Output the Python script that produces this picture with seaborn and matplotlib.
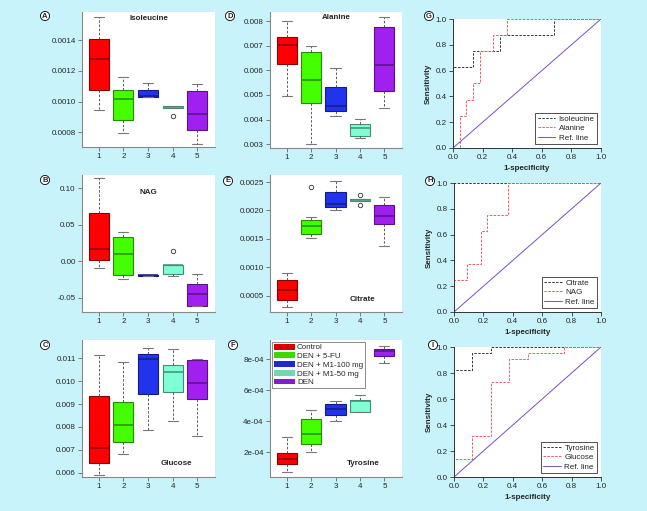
import numpy as np
import pandas as pd
import seaborn as sns
import matplotlib.pyplot as plt
from matplotlib.patches import Patch
from matplotlib.colors import to_rgb

groups = ["1", "2", "3", "4", "5"]
fills = ["#ff0000", "#44ff00", "#2233ee", "#7fffd4", "#a020f0"]
legend_labels = ["Control", "DEN + 5-FU", "DEN + M1-100 mg", "DEN + M1-50 mg", "DEN"]

# box summaries per group: (low whisker, q1, median, q3, high whisker)
isoleucine = [(0.000943, 0.001076, 0.001274, 0.001405, 0.00155),
              (0.000798, 0.000878, 0.001017, 0.001076, 0.001163),
              (0.00103, 0.00103, 0.001033, 0.001078, 0.001122),
              (0.000957, 0.000957, 0.000965, 0.000968, 0.000968),
              (0.000722, 0.000817, 0.000922, 0.001067, 0.001111)]
isoleucine_out = [[], [], [], [0.000905], []]

alanine = [(0.00496, 0.00628, 0.00704, 0.00735, 0.0080),
           (0.0030, 0.00467, 0.0056, 0.00677, 0.00699),
           (0.00414, 0.00436, 0.00457, 0.00532, 0.0061),
           (0.00324, 0.00332, 0.00364, 0.00383, 0.00404),
           (0.00447, 0.00518, 0.00621, 0.00776, 0.00816)]
alanine_out = [[], [], [], [], []]

nag = [(-0.0096, 0.0014, 0.0171, 0.0665, 0.1137),
       (-0.0243, -0.0183, 0.0102, 0.0333, 0.0403),
       (-0.0195, -0.0195, -0.0185, -0.018, -0.018),
       (-0.0197, -0.017, -0.0055, -0.0055, -0.0055),
       (-0.061, -0.061, -0.044, -0.0307, -0.017)]
nag_out = [[], [], [], [0.0148], []]

citrate = [(0.000306, 0.000435, 0.0006, 0.000777, 0.000906),
           (0.001523, 0.001595, 0.001724, 0.001835, 0.001894),
           (0.002006, 0.002065, 0.002117, 0.00233, 0.002523),
           (0.00217, 0.00217, 0.00218, 0.002194, 0.002194),
           (0.001383, 0.001771, 0.001912, 0.0021, 0.002235)]
citrate_out = [[], [0.002406], [], [0.0021, 0.002276], []]

glucose = [(0.0059, 0.00644, 0.00706, 0.00935, 0.01113),
           (0.0068, 0.00732, 0.0081, 0.0091, 0.01082),
           (0.00787, 0.00942, 0.01096, 0.01119, 0.01144),
           (0.00826, 0.00952, 0.01041, 0.0107, 0.0114),
           (0.0076, 0.00924, 0.00991, 0.01093, 0.01099)]
glucose_out = [[], [], [], [], []]

tyrosine = [(0.71e-4, 1.27e-4, 1.59e-4, 1.98e-4, 2.99e-4),
            (2.04e-4, 2.54e-4, 3.21e-4, 4.17e-4, 4.76e-4),
            (4.04e-4, 4.43e-4, 4.79e-4, 5.11e-4, 5.31e-4),
            (4.6e-4, 4.6e-4, 5.33e-4, 5.35e-4, 5.68e-4),
            (7.74e-4, 8.24e-4, 8.54e-4, 8.69e-4, 8.88e-4)]
tyrosine_out = [[], [], [], [], []]

# ROC curve vertices
iso_fpr = [0, 0, 0.136, 0.136, 0.318, 0.318, 0.682, 0.682, 1]
iso_tpr = [0, 0.625, 0.625, 0.75, 0.75, 0.875, 0.875, 1, 1]
ala_fpr = [0, 0.045, 0.045, 0.091, 0.091, 0.136, 0.136, 0.182, 0.182, 0.273, 0.273, 0.364, 0.364, 1]
ala_tpr = [0, 0, 0.25, 0.25, 0.375, 0.375, 0.5, 0.5, 0.75, 0.75, 0.875, 0.875, 1, 1]
cit_fpr = [0, 0, 1]
cit_tpr = [0, 1, 1]
nag_fpr = [0, 0, 0.091, 0.091, 0.182, 0.182, 0.227, 0.227, 0.364, 0.364, 1]
nag_tpr = [0, 0.25, 0.25, 0.375, 0.375, 0.625, 0.625, 0.75, 0.75, 1, 1]
tyr_fpr = [0, 0, 0.125, 0.125, 0.25, 0.25, 1]
tyr_tpr = [0, 0.82, 0.82, 0.955, 0.955, 1, 1]
glu_fpr = [0, 0, 0.125, 0.125, 0.25, 0.25, 0.375, 0.375, 0.5, 0.5, 0.75, 0.75, 1]
glu_tpr = [0, 0.136, 0.136, 0.318, 0.318, 0.727, 0.727, 0.909, 0.909, 0.955, 0.955, 1, 1]
ref_x = [0, 1]
ref_y = [0, 1]

roc_ticks = [0, 0.2, 0.4, 0.6, 0.8, 1.0]

sns.set_style("ticks")
plt.rcParams['font.family'] = ['Liberation Sans', 'DejaVu Sans']
FS = 5.8
W, H = 647, 511
BG = "#c8f3fb"

fig = plt.figure(figsize=(W / 100, H / 100), dpi=100, facecolor=BG)


def rect(l, t, r, b):
    return [l / W, 1 - b / H, (r - l) / W, (b - t) / H]


def dark(c, f=0.55):
    return tuple(v * f for v in to_rgb(c))


def box_sample(stats, outliers):
    # 9 points so the quartiles land exactly on q1/median/q3
    lo, q1, med, q3, hi = stats
    pts = [lo, lo, q1, q1, med, q3, q3, hi, hi]
    below = [o for o in outliers if o < lo]
    above = [o for o in outliers if o > hi]
    if below:
        pts[0] = below[0]
    if above:
        pts[-1] = above[0]
    return pts


def draw_box(pos, stats, outs, ylim, yticks, ylabels, name, nx, ny):
    ax = fig.add_axes(rect(*pos))
    for i, g in enumerate(groups):
        df = pd.DataFrame({"group": g, "value": box_sample(stats[i], outs[i])})
        sns.boxplot(data=df, x="group", y="value", order=groups, ax=ax,
                    color=fills[i], linecolor=dark(fills[i]), saturation=1,
                    width=0.82, linewidth=0.8,
                    whiskerprops=dict(color="#444444", linestyle=(0, (3, 2)), linewidth=0.6),
                    capprops=dict(color="#777777", linewidth=0.8),
                    medianprops=dict(linewidth=1.1),
                    flierprops=dict(marker="o", markerfacecolor="none",
                                    markeredgecolor="#333333", markersize=3.2,
                                    markeredgewidth=0.6))
    ax.set_xlim(-0.68, 4.72)
    ax.set_ylim(*ylim)
    ax.set_yticks(yticks)
    ax.set_yticklabels(ylabels)
    ax.set_xlabel("")
    ax.set_ylabel("")
    ax.set_facecolor("white")
    for s in ["top", "right"]:
        ax.spines[s].set_visible(False)
    for s in ["left", "bottom"]:
        ax.spines[s].set_color("#888888")
        ax.spines[s].set_linewidth(0.8)
    ax.tick_params(labelsize=FS, length=3, width=0.6, color="#666666", pad=1.5)
    ax.text(nx, ny, name, transform=ax.transAxes, ha="center", va="center",
            fontsize=FS, fontweight="bold")
    return ax


def draw_roc(pos, fpr1, tpr1, n1, fpr2, tpr2, n2):
    ax = fig.add_axes(rect(*pos))
    sns.lineplot(x=fpr1, y=tpr1, ax=ax, estimator=None, sort=False,
                 color="#333333", linestyle=(0, (2.5, 1.5)), linewidth=0.7, label=n1)
    sns.lineplot(x=fpr2, y=tpr2, ax=ax, estimator=None, sort=False,
                 color="#ee5a5a", linestyle=(0, (2.5, 1.5)), linewidth=0.7, label=n2)
    sns.lineplot(x=ref_x, y=ref_y, ax=ax, estimator=None, sort=False,
                 color="#7a4fc0", linewidth=0.7, label="Ref. line")
    ax.set_xlim(0, 1)
    ax.set_ylim(0, 1)
    ax.set_xticks(roc_ticks)
    ax.set_yticks(roc_ticks)
    ax.set_xticklabels([f"{t:.1f}" for t in roc_ticks])
    ax.set_yticklabels([f"{t:.1f}" for t in roc_ticks])
    ax.set_xlabel("1-specificity", fontsize=FS, fontweight="bold", labelpad=3)
    ax.set_ylabel("Sensitivity", fontsize=FS, fontweight="bold", labelpad=3)
    ax.set_facecolor("white")
    for s in ["top", "right"]:
        ax.spines[s].set_visible(False)
    for s in ["left", "bottom"]:
        ax.spines[s].set_color("#333333")
        ax.spines[s].set_linewidth(0.7)
    ax.tick_params(labelsize=FS, length=3, width=0.6, color="#333333", pad=1.5)
    leg = ax.legend(loc="lower right", fontsize=FS, frameon=True, fancybox=False,
                    handlelength=2.2, borderpad=0.3, labelspacing=0.2,
                    handletextpad=0.4, borderaxespad=0.5)
    leg.get_frame().set_edgecolor("black")
    leg.get_frame().set_linewidth(0.6)
    return ax


draw_box((82, 12, 215, 147), isoleucine, isoleucine_out, (0.000704, 0.001583),
         [0.0008, 0.0010, 0.0012, 0.0014], ["0.0008", "0.0010", "0.0012", "0.0014"],
         "Isoleucine", 0.5, 0.95)
draw_box((270, 12, 402, 148), alanine, alanine_out, (0.00284, 0.00838),
         [0.003, 0.004, 0.005, 0.006, 0.007, 0.008],
         ["0.003", "0.004", "0.005", "0.006", "0.007", "0.008"],
         "Alanine", 0.5, 0.96)
draw_box((82, 175, 215, 312), nag, nag_out, (-0.0693, 0.1183),
         [-0.05, 0.0, 0.05, 0.10], ["-0.05", "0.00", "0.05", "0.10"],
         "NAG", 0.5, 0.875)
draw_box((270, 175, 402, 312), citrate, citrate_out, (0.000218, 0.002623),
         [0.0005, 0.0010, 0.0015, 0.0020, 0.0025],
         ["0.0005", "0.0010", "0.0015", "0.0020", "0.0025"],
         "Citrate", 0.70, 0.09)
draw_box((82, 340, 215, 477), glucose, glucose_out, (0.00581, 0.0118),
         [0.006, 0.007, 0.008, 0.009, 0.010, 0.011],
         ["0.006", "0.007", "0.008", "0.009", "0.010", "0.011"],
         "Glucose", 0.71, 0.10)
axF = draw_box((270, 340, 402, 477), tyrosine, tyrosine_out, (0.40e-4, 9.25e-4),
               [2e-4, 4e-4, 6e-4, 8e-4], ["2e-04", "4e-04", "6e-04", "8e-04"],
               "Tyrosine", 0.71, 0.10)

handles = [Patch(facecolor=dark(c, 0.85), edgecolor="none") for c in fills]
leg = axF.legend(handles, legend_labels, loc="upper left", fontsize=FS,
                 frameon=True, fancybox=False, handlelength=2.6, handleheight=0.75,
                 labelspacing=0.12, handletextpad=0.3, borderpad=0.25,
                 borderaxespad=0.2)
leg.get_frame().set_edgecolor("#555555")
leg.get_frame().set_linewidth(0.6)

draw_roc((453, 19, 601, 148), iso_fpr, iso_tpr, "Isoleucine", ala_fpr, ala_tpr, "Alanine")
draw_roc((454, 183, 601, 312), cit_fpr, cit_tpr, "Citrate", nag_fpr, nag_tpr, "NAG")
draw_roc((454, 347, 601, 477), tyr_fpr, tyr_tpr, "Tyrosine", glu_fpr, glu_tpr, "Glucose")

# circled panel letters
letters = ["A", "D", "G", "B", "E", "H", "C", "F", "I"]
letter_x = [45, 230, 429, 45, 228, 430, 45, 233, 433]
letter_y = [16, 16, 16, 180, 181, 181, 345, 345, 345]
for t, x, y in zip(letters, letter_x, letter_y):
    fig.text(x / W, 1 - y / H, t, ha="center", va="center", fontsize=5.5,
             fontweight="bold",
             bbox=dict(boxstyle="circle,pad=0.14", fc="white", ec="black", lw=0.6))

fig.savefig("out.png", dpi=100, facecolor=BG)
